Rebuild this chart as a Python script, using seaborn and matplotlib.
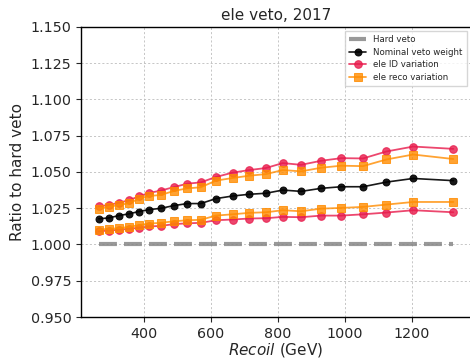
import numpy as np
import pandas as pd
import matplotlib
matplotlib.use("Agg")
import matplotlib.pyplot as plt
import seaborn as sns

recoil = [265, 295, 325, 355, 385, 415, 450, 490, 530, 570, 615, 665,
          715, 765, 815, 870, 930, 990, 1055, 1125, 1205, 1325]
hard_veto = [1.0] * len(recoil)
nominal = [1.0177, 1.0183, 1.0199, 1.0211, 1.0227, 1.0240, 1.0249, 1.0268,
           1.0282, 1.0282, 1.0316, 1.0334, 1.0346, 1.0353, 1.0375, 1.0366,
           1.0387, 1.0398, 1.0398, 1.0430, 1.0455, 1.0440]
id_up = [1.0263, 1.0272, 1.0288, 1.0304, 1.0332, 1.0355, 1.0371, 1.0396,
         1.0419, 1.0428, 1.0465, 1.0495, 1.0513, 1.0527, 1.0561, 1.0549,
         1.0577, 1.0595, 1.0593, 1.0641, 1.0675, 1.0659]
id_dn = [1.0091, 1.0096, 1.0101, 1.0108, 1.0115, 1.0124, 1.0128, 1.0140,
         1.0146, 1.0149, 1.0167, 1.0172, 1.0179, 1.0181, 1.0190, 1.0188,
         1.0199, 1.0199, 1.0208, 1.0220, 1.0236, 1.0222]
reco_up = [1.0247, 1.0259, 1.0272, 1.0284, 1.0314, 1.0334, 1.0341, 1.0369,
           1.0387, 1.0394, 1.0440, 1.0458, 1.0474, 1.0485, 1.0513, 1.0504,
           1.0529, 1.0543, 1.0540, 1.0586, 1.0620, 1.0589]
reco_dn = [1.0103, 1.0108, 1.0112, 1.0121, 1.0133, 1.0144, 1.0149, 1.0160,
           1.0167, 1.0170, 1.0199, 1.0208, 1.0218, 1.0222, 1.0236, 1.0229,
           1.0247, 1.0252, 1.0259, 1.0275, 1.0293, 1.0293]

sns.set_style("ticks")
plt.rcParams['font.family'] = ['DejaVu Sans']

fig = plt.figure(figsize=(4.7, 3.6), dpi=100)
ax = fig.add_axes([0.1723, 0.1194, 0.83, 0.806])

RED = "#e8194a"
ORANGE = "#ff8c00"

sns.lineplot(x=recoil, y=hard_veto, ax=ax, color="gray", lw=3, alpha=0.8,
             label="Hard veto")
ax.lines[-1].set_linestyle((0, (4.3, 1.7)))
sns.lineplot(x=recoil, y=nominal, ax=ax, color="black", marker="o",
             markersize=5, markeredgecolor="black", lw=1.2, alpha=0.9,
             label="Nominal veto weight")
sns.lineplot(x=recoil, y=id_up, ax=ax, color=RED, marker="o", markersize=5.5,
             markeredgecolor=RED, lw=1.3, alpha=0.8, label="ele ID variation")
sns.lineplot(x=recoil, y=id_dn, ax=ax, color=RED, marker="o", markersize=5.5,
             markeredgecolor=RED, lw=1.3, alpha=0.8)
sns.lineplot(x=recoil, y=reco_up, ax=ax, color=ORANGE, marker="s", markersize=5.5,
             markeredgecolor=ORANGE, lw=1.3, alpha=0.8, label="ele reco variation")
sns.lineplot(x=recoil, y=reco_dn, ax=ax, color=ORANGE, marker="s", markersize=5.5,
             markeredgecolor=ORANGE, lw=1.3, alpha=0.8)

ax.set_xlim(212, 1378)
ax.set_ylim(0.95, 1.15)
ax.set_yticks(np.arange(0.95, 1.1501, 0.025))
ax.set_yticklabels([f"{v:.3f}" for v in np.arange(0.95, 1.1501, 0.025)])
ax.set_xticks([400, 600, 800, 1000, 1200])
ax.tick_params(labelsize=10.3, length=3.5, pad=3.5)
ax.grid(True, linestyle=(0, (2.5, 2.5)), color="#bdbdbd", lw=0.6)
for s in ax.spines.values():
    s.set_color("black")
    s.set_linewidth(1.0)

ax.set_title("ele veto, 2017", fontsize=11, pad=5)
ax.set_ylabel("Ratio to hard veto", fontsize=11, labelpad=4)
ax.set_xlabel(r"$\it{Recoil}$ (GeV)", fontsize=11, labelpad=0.5)

leg = ax.legend(loc="upper right", fontsize=6.2, frameon=True, fancybox=False,
                handlelength=2.0, borderpad=0.5, labelspacing=0.4)
leg.get_frame().set_edgecolor("#cccccc")

fig.savefig("out.png", dpi=100)
